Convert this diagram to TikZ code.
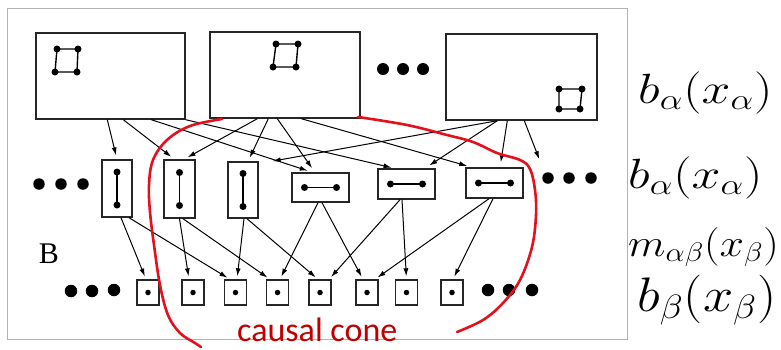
\documentclass[tikz,border=0pt]{standalone}
\usepackage{fontspec}
\usetikzlibrary{arrows.meta,calc}
\newfontfamily\cfont{Carlito}
\newfontfamily\tfont{Liberation Serif}
\definecolor{conered}{HTML}{E3101E}
\definecolor{conetext}{HTML}{C00000}
\begin{document}
\begin{tikzpicture}[x=1pt,y=-1pt,
  bigbox/.style={draw=black!85,line width=1.4pt,rectangle,inner sep=0pt},
  pin/.style={circle,fill=black,inner sep=0pt,minimum size=7pt},
  smallpin/.style={circle,fill=black,inner sep=0pt,minimum size=5.5pt},
  edot/.style={circle,fill=black,inner sep=0pt,minimum size=11.5pt},
  arr/.style={-{Latex[length=8pt,width=5pt]},line width=1pt,shorten >=3pt},
  lbl/.style={anchor=base west,inner sep=0pt,font=\fontsize{24}{28}\selectfont},
  cone/.style={draw=conered,line width=2.6pt,line cap=round}]
\useasboundingbox (0,0) rectangle (781,349);
% frame
\draw[black!30,line width=1pt] (7,8) rectangle (627,339);

% top boxes
\node[bigbox,minimum width=149pt,minimum height=86pt] (T1) at (110.5,76) {};
\node[bigbox,minimum width=150pt,minimum height=86pt] (T2) at (285,75) {};
\node[bigbox,minimum width=151pt,minimum height=86pt] (T3) at (521.5,77) {};
% squares in top boxes
\draw[line width=1.4pt] (57,49) -- (78,49) -- (77,72) -- (55,72) -- cycle;
\foreach \p in {(57,49),(78,49),(77,72),(55,72)} \node[pin] at \p {};
\draw[line width=1.4pt] (276,44) -- (298,44) -- (296,67) -- (273,67) -- cycle;
\foreach \p in {(276,44),(298,44),(296,67),(273,67)} \node[pin] at \p {};
\draw[line width=1.4pt] (559,89) -- (582,89) -- (580,109) -- (559,109) -- cycle;
\foreach \p in {(559,89),(582,89),(580,109),(559,109)} \node[pin] at \p {};
% top ellipsis
\node[edot,minimum size=12pt] (td1) at (383,69) {};
\node[edot,minimum size=12pt] (td2) at (403,69) {};
\node[edot,minimum size=12pt] (td3) at (423,69) {};

% middle boxes
\node[bigbox,minimum width=30pt,minimum height=57pt] (M1) at (117,188.5) {};
\node[bigbox,minimum width=31pt,minimum height=58pt] (M2) at (179.5,189) {};
\node[bigbox,minimum width=30pt,minimum height=56pt] (M3) at (243,190) {};
\node[bigbox,minimum width=57pt,minimum height=29pt] (M4) at (320.5,187.5) {};
\node[bigbox,minimum width=57pt,minimum height=30pt] (M5) at (406.5,184) {};
\node[bigbox,minimum width=57pt,minimum height=30pt] (M6) at (494.5,183) {};
\foreach \m in {M1,M2,M3}{
  \draw[line width=1.4pt] ($(\m)+(0,-16.5)$) -- ($(\m)+(0,16.5)$);
  \node[pin] at ($(\m)+(0,-16.5)$) {};
  \node[pin] at ($(\m)+(0,16.5)$) {};
}
\foreach \m in {M4,M5,M6}{
  \draw[line width=1.4pt] ($(\m)+(-16,0)$) -- ($(\m)+(16,0)$);
  \node[pin] at ($(\m)+(-16,0)$) {};
  \node[pin] at ($(\m)+(16,0)$) {};
}
% middle ellipsis
\node[edot] (ml1) at (39,184) {};
\node[edot] (ml2) at (61,184) {};
\node[edot] (ml3) at (83,184) {};
\node[edot] (mr1) at (548,178) {};
\node[edot] (mr2) at (569,178) {};
\node[edot] (mr3) at (591,178) {};

% bottom squares
\foreach \n/\x in {S1/148,S2/193,S3/235.5,S4/277.5,S5/320,S6/367,S7/406.5,S8/452}{
  \node[bigbox,minimum width=22pt,minimum height=25pt] (\n) at (\x,292.5) {};
  \node[smallpin] at (\n) {};
}
% bottom ellipsis
\node[edot,minimum size=12.5pt] (bl1) at (71,291) {};
\node[edot,minimum size=12.5pt] (bl2) at (92,291) {};
\node[edot,minimum size=12.5pt] (bl3) at (114,290) {};
\node[edot,minimum size=12.5pt] (br1) at (488,290) {};
\node[edot,minimum size=12.5pt] (br2) at (509,290) {};
\node[edot,minimum size=12.5pt] (br3) at (532,290) {};

% top -> middle connectors
\draw[arr,shorten >=4pt] ($(T1.south west)+(72,0)$) -- (M1.north);
\draw[arr,shorten >=4pt] ($(T1.south west)+(88,0)$) -- ($(M2.north)+(-5,0)$);
\draw[arr,shorten >=5pt] ($(T1.south west)+(116,0)$) -- ($(M4.north)+(-8,0)$);
\draw[arr] (T1.south east) -- ($(M5.north)+(-12,0)$);
\draw[arr,shorten >=4pt] ($(T2.south west)+(48,0)$) -- ($(M2.north)+(4.5,0)$);
\draw[arr,shorten >=4pt] ($(T2.south west)+(59,0)$) -- ($(M3.north)+(5,0)$);
\draw[arr,shorten >=5pt] ($(T2.south west)+(68,0)$) -- ($(M4.north)+(-5.5,0)$);
\draw[arr,shorten >=5pt] ($(T2.south west)+(92,0)$) -- ($(M6.north)+(-22.5,0)$);
\draw[arr,shorten >=1pt] ($(T3.south west)+(52,0)$) -- ($(M3.north east)+(13,0)$);
\draw[arr,shorten >=5pt] ($(T3.south west)+(52,0)$) -- ($(M5.north)+(18.5,0)$);
\draw[arr,shorten >=5pt] ($(T3.south west)+(62,0)$) -- ($(M6.north)+(5.5,0)$);
\draw[arr,shorten >=2pt] ($(T3.south west)+(79,0)$) -- ($(mr1)+(-8,-17)$);

% middle -> bottom connectors
\draw[arr] ($(M1.south)+(4,0)$) -- ($(S1.north)+(-2,0)$);
\draw[arr] ($(M1.south)+(12,0)$) -- ($(S3.north)+(-5.5,0)$);
\draw[arr] (M2.south) -- ($(S2.north)+(-4,0)$);
\draw[arr] ($(M2.south)+(3.5,0)$) -- ($(S4.north)+(-7.5,0)$);
\draw[arr] ($(M3.south)+(1,0)$) -- ($(S3.north)+(1.5,0)$);
\draw[arr] ($(M3.south)+(4,0)$) -- ($(S5.north)+(-2,0)$);
\draw[arr] ($(M4.south)+(-2.5,0)$) -- ($(S4.north)+(2.5,0)$);
\draw[arr] ($(M4.south)+(1.5,0)$) -- ($(S6.north)+(-4,0)$);
\draw[arr] ($(M5.south)+(-6.5,0)$) -- ($(S5.north)+(9,0)$);
\draw[arr] ($(M5.south)+(-4.5,0)$) -- (S7.north);
\draw[arr] ($(M6.south)+(-5.5,0)$) -- ($(S6.north)+(8,0)$);
\draw[arr] ($(M6.south)+(-1.5,0)$) -- ($(S8.north)+(1,0)$);

% B label
\node[inner sep=0pt,font=\tfont\fontsize{30}{34}\selectfont] (B) at (49,254) {B};

% right labels (math set at 24pt, then scaled up)
\node[lbl] (L1) at (638,103) {\scalebox{2.08}[1.7]{$b_\alpha(x_\alpha)$}};
\node[lbl] (L2) at (628,188) {\scalebox{2.08}[1.7]{$b_\alpha(x_\alpha)$}};
\node[lbl] (L3) at (628,256) {\scalebox{1.76}[1.55]{$m_{\alpha\beta}(x_\beta)$}};
\node[lbl] (L4) at (637,311) {\scalebox{2.18}[1.95]{$b_\beta(x_\beta)$}};

% causal cone
\draw[cone] plot[smooth,tension=0.6] coordinates {(222,119) (190,126) (167,140) (153,160) (149,185) (150,212) (154,245) (160,285) (168,315) (180,333) (195,343) (201,347)};
\draw[cone] plot[smooth,tension=0.6] coordinates {(358,117) (407,125) (447,135) (473,142) (497,153) (520,160) (530,169) (535,190) (536,215) (532,247) (520,280) (503,303) (483,320) (457,332)};
\node[anchor=base west,inner sep=0pt,text=conetext,font=\cfont\fontsize{34}{40}\selectfont] (CC) at (237,341) {causal cone};
\end{tikzpicture}
\end{document}
